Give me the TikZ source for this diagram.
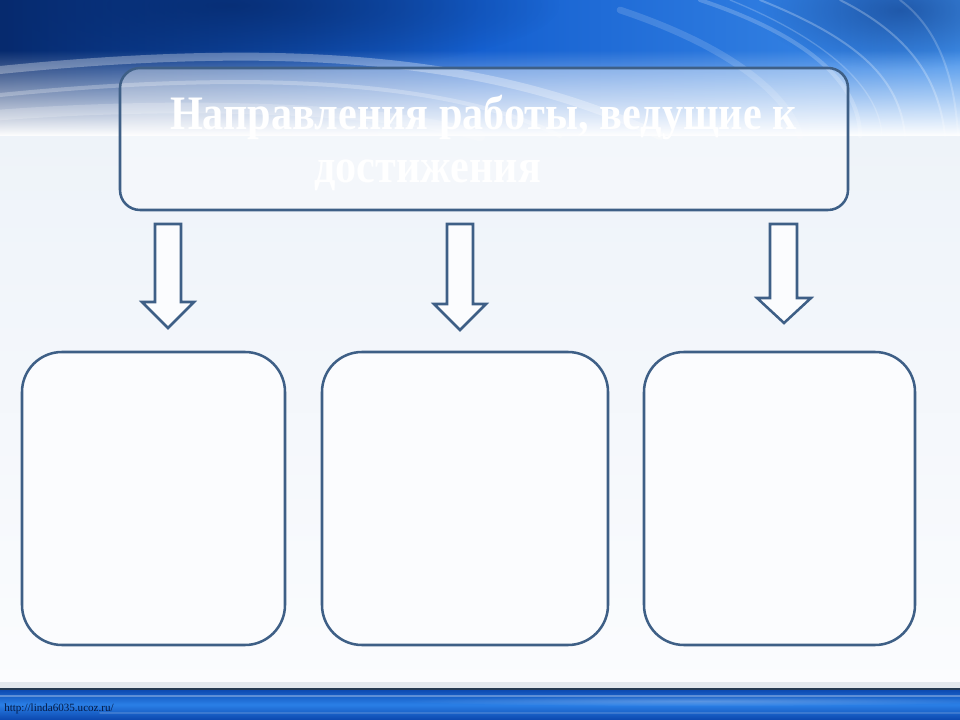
\documentclass[tikz,border=0pt]{standalone}
\usepackage{fontspec}
\setmainfont{Liberation Serif}
\usetikzlibrary{fadings}
\definecolor{edge}{HTML}{3E5F86}
\definecolor{navy}{HTML}{062A6E}
\definecolor{royal}{HTML}{1560D0}
\definecolor{sky}{HTML}{3F8EEA}
\definecolor{pale}{HTML}{EEF3F9}
\definecolor{paler}{HTML}{FBFCFE}
\definecolor{band}{HTML}{2A7FE6}
\definecolor{banddark}{HTML}{0B47AE}
\tikzfading[name=softblob,inner color=transparent!0,outer color=transparent!100]
\begin{document}
\begin{tikzpicture}[x=0.75pt,y=-0.75pt,
  frame/.style={draw=edge,line width=1.9pt,fill=paler,rounded corners=30pt,inner sep=0pt},
  titleframe/.style={draw=edge,line width=1.9pt,fill=white,fill opacity=0.35,rounded corners=15pt,inner sep=0pt},
  blockarrow/.style={draw=edge,line width=1.9pt,fill=paler,line join=miter},
  titletext/.style={text=white,font=\bfseries\fontsize{36}{42}\selectfont,inner sep=0pt},
  streak/.style={white,line cap=round}]
\useasboundingbox (0,0) rectangle (960,720);
% pale lower background
\shade[top color=pale,bottom color=paler] (0,135) rectangle (960,690);
% top band
\shade[left color=navy,right color=sky,middle color=royal] (0,0) rectangle (960,136);
\fill[navy,opacity=0.8,path fading=softblob] (230,5) ellipse (330 and 70);
\fill[navy,opacity=0.5,path fading=softblob] (900,10) ellipse (140 and 60);
\fill[white,path fading=north] (0,50) rectangle (960,136);
\draw[streak,opacity=0.3,line width=6pt] (0,70) .. controls (300,40) and (500,60) .. (660,136);
\draw[streak,opacity=0.25,line width=3pt] (0,95) .. controls (250,70) and (450,80) .. (560,136);
\draw[streak,opacity=0.2,line width=8pt] (0,115) .. controls (200,100) and (400,110) .. (480,136);
\draw[streak,opacity=0.25,line width=1.5pt] (760,0) .. controls (860,40) and (900,80) .. (905,136);
\draw[streak,opacity=0.2,line width=3pt] (700,0) .. controls (820,40) and (860,90) .. (860,136);
\draw[streak,opacity=0.25,line width=1.5pt] (840,0) .. controls (920,40) and (940,90) .. (945,136);
\draw[streak,opacity=0.15,line width=5pt] (620,10) .. controls (740,50) and (790,100) .. (800,136);
\draw[streak,opacity=0.2,line width=1.5pt] (900,0) .. controls (940,30) and (955,80) .. (958,136);
\draw[streak,opacity=0.2,line width=1pt] (730,0) .. controls (840,45) and (880,95) .. (882,136);
% bottom band
\fill[edge!15!white] (0,682) rectangle (960,689);
\shade[top color=banddark,bottom color=banddark,middle color=band] (0,689) rectangle (960,720);
\fill[white,opacity=0.25,path fading=softblob] (700,701) ellipse (300 and 5);
\draw[streak,opacity=0.3,line width=1.5pt] (0,696) -- (960,696);
\draw[streak,opacity=0.15,line width=1.5pt] (100,713) -- (960,713);
\draw[edge!60!black,line width=1.5pt] (0,689) -- (960,689);
\node[anchor=base west,inner sep=0pt,font=\fontsize{8.3}{9}\selectfont,text=navy!60!black] (url) at (4,711) {http://linda6035.ucoz.ru/};
% title
\node[titleframe,minimum width=546pt,minimum height=106.5pt] (title) at (484,139) {};
\node[titletext,anchor=base] (t1) at (483.5,130) {\scalebox{0.88}[1]{Направления работы, ведущие к}};
\node[titletext,anchor=base west] (t2) at (314,183) {\scalebox{0.88}[1]{достижения}};
% arrows
\draw[blockarrow] (155,224) -- (181,224) -- (181,302) -- (194,302) -- (168,328) -- (142,302) -- (155,302) -- cycle;
\draw[blockarrow] (447,224) -- (473,224) -- (473,304) -- (486,304) -- (460,330) -- (434,304) -- (447,304) -- cycle;
\draw[blockarrow] (770,224) -- (797,224) -- (797,298) -- (811,298) -- (784,323) -- (757,298) -- (770,298) -- cycle;
% boxes
\node[frame,minimum width=197.25pt,minimum height=219.75pt] (b1) at (153.5,498.5) {};
\node[frame,minimum width=214.5pt,minimum height=219.75pt] (b2) at (465,498.5) {};
\node[frame,minimum width=203.25pt,minimum height=219.75pt] (b3) at (779.5,498.5) {};
\end{tikzpicture}
\end{document}
